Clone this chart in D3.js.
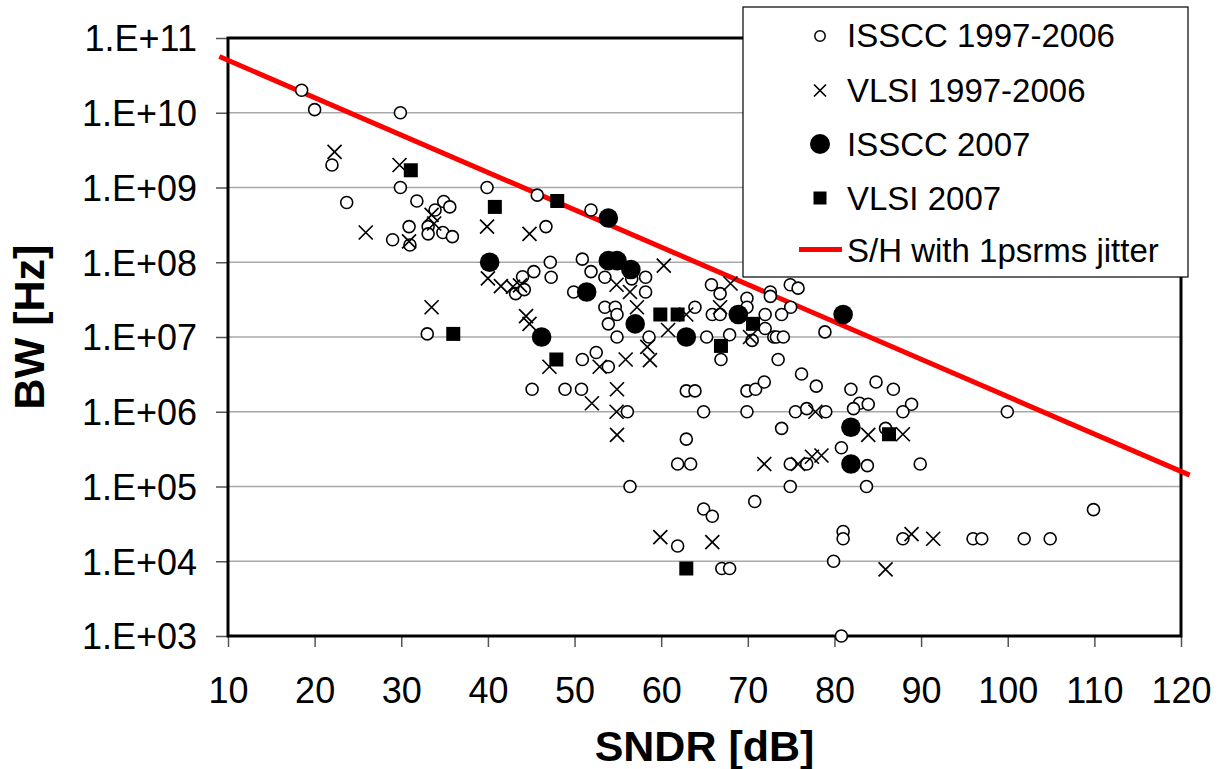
<!DOCTYPE html>
<html><head><meta charset="utf-8">
<script src="https://cdn.jsdelivr.net/npm/d3@7"></script>
<style>body{margin:0;background:#fff;} svg{display:block;font-family:"Liberation Sans",Arial,Helvetica,sans-serif;}</style>
</head><body><svg id="c" width="1224" height="769"></svg>
<script>
// ---- data: [SNDR dB, BW Hz] ----
const isscc9706 = [
[18.5,2e10],[20,1.1e10],[29.9,1e10],[22,2e9],[29.9,1e9],[23.7,6.3e8],[31.8,6.6e8],[34.9,6.5e8],[35.6,5.5e8],[33.9,5e8],[39.9,1e9],[45.7,7.9e8],
[29,2e8],[30.9,3e8],[31,1.7e8],[33.1,3e8],[33.1,2.4e8],[34.8,2.5e8],[35.9,2.2e8],[46.7,3e8],
[45.3,7.5e7],[47.2,1e8],[47.3,6.3e7],[44,6.4e7],[43.2,3.8e7],[44.2,4.3e7],
[33,1.1e7],[45.1,2e6],[51.9,5e8],
[50.9,1.1e8],[51.9,7.5e7],[49.9,4e7],
[53.5,6.3e7],[56.6,6e7],[58.2,6.3e7],[58.2,4e7],
[53.5,2.5e7],[54.7,2.5e7],[54.9,2e7],[53.9,1.5e7],[54.9,1e7],[58.6,1e7],
[63.9,2.5e7],[65.25,1e7],[67.9,1.07e7],[66.9,5e6],
[65.8,5e7],[66.8,3.8e7],[69.9,3.3e7],[72.6,4e7],[72.6,3.5e7],[74.9,5e7],[75.8,4.5e7],[74.95,2.5e7],
[65.9,2e7],[66.8,2e7],[69.9,2.5e7],[70.5,9e6],[72,2e7],[72,1.3e7],[73,1e7],[73.3,1e7],[74.1,1e7],[73.9,2e7],[78.9,1.17e7],
[73.5,5e6],[76.2,3.2e6],[77.9,2.2e6],[81.9,2e6],
[50.9,5e6],[52.5,6.2e6],[53.9,4e6],[48.9,2e6],[50.8,2e6],[56.1,1e6],[62.9,1.9e6],[63.9,1.9e6],[64.9,1e6],
[69.9,1.9e6],[70.9,2e6],[71.9,2.5e6],[69.9,1e6],[75.5,1e6],[76.8,1.1e6],[79,1e6],
[84.8,2.5e6],[86.8,2e6],[82.9,1.3e6],[83.9,1.26e6],[82.2,1.1e6],[88.9,1.26e6],[87.9,1e6],[99.95,1e6],
[62.9,4.3e5],[61.9,2e5],[63.4,2e5],[56.4,1e5],[73.9,6e5],[74.9,2e5],[76.8,2e5],[80.8,3.3e5],[83.8,1.9e5],[83.7,1e5],[74.9,1e5],
[70.8,6.3e4],[64.9,5e4],[65.9,4e4],[61.9,1.6e4],[67,8e3],[67.9,8e3],[81,2.5e4],[81,2e4],[79.9,1e4],[80.8,1e3],
[85.9,6e5],[89.9,2e5],[109.9,4.9e4],[87.9,2e4],[96,2e4],[97,2e4],[101.9,2e4],[104.9,2e4]
];
const vlsi9706 = [
[22.3,3e9],[29.8,2e9],[33.5,4.3e8],[33.8,3.3e8],[25.9,2.5e8],[30.9,1.9e8],[39.9,3e8],[44.8,2.4e8],
[40,6.1e7],[41.5,4.8e7],[42.9,4.7e7],[43.7,4.9e7],[33.5,2.5e7],[44.4,1.9e7],[44.8,1.5e7],[47.1,4e6],
[54.85,5e7],[56.4,4e7],[60.3,9e7],[57.2,2.5e7],[60.8,1.24e7],[62.9,2e7],[58.4,7.4e6],[58.7,4.9e6],
[68,5.2e7],[66.8,2.5e7],[70.25,1e7],[52.9,4e6],[55.9,5e6],[52,1.3e6],[54.9,2e6],[54.85,1e6],[77.8,1e6],
[54.9,4.9e5],[71.9,2e5],[75.8,2e5],[77.4,2.5e5],[78.5,2.6e5],[59.9,2.1e4],[65.9,1.8e4],
[83.9,4.9e5],[87.9,5e5],[88.9,2.3e4],[91.4,2e4],[85.9,7.8e3]
];
const isscc2007 = [
[40.2,1e8],[46.2,1e7],[51.4,4e7],[53.9,3.9e8],[53.9,1.05e8],[54.9,1.05e8],[56.5,8e7],[57,1.5e7],[62.9,1e7],[68.9,2e7],[81,2e7],[81.9,6.2e5],[81.9,2e5]
];
const vlsi2007 = [
[31.1,1.7e9],[40.8,5.5e8],[48,6.6e8],[36,1.1e7],[47.9,5e6],[59.9,2e7],[61.9,2e7],[66.9,7.6e6],[70.6,1.5e7],[62.9,8e3],[86.3,5e5]
];
const jitterLine = [[9,5.65e10],[121,1.42e5]];
const xTicks = [10,20,30,40,50,60,70,80,90,100,110,120];
const yTicks = [1e3,1e4,1e5,1e6,1e7,1e8,1e9,1e10,1e11];
const yTickLabels = ["1.E+03","1.E+04","1.E+05","1.E+06","1.E+07","1.E+08","1.E+09","1.E+10","1.E+11"];
const legendLabels = ["ISSCC 1997-2006","VLSI 1997-2006","ISSCC 2007","VLSI 2007","S/H with 1psrms jitter"];

// ---- chart ----
const svg = d3.select("#c");
const X0=228, X1=1181, Y0=38, Y1=636;
const x = d3.scaleLinear().domain([10,120]).range([X0,X1]);
const y = d3.scaleLog().domain([1e3,1e11]).range([Y1,Y0]);

// gridlines
svg.append("g").selectAll("line").data(yTicks.slice(1,-1)).join("line")
  .attr("x1",X0).attr("x2",X1).attr("y1",d=>y(d)).attr("y2",d=>y(d))
  .attr("stroke","#a8a8a8").attr("stroke-width",1.5);

// axes
const yAxis = d3.axisLeft(y).tickValues(yTicks).tickSize(12).tickPadding(19)
  .tickFormat((d,i)=>yTickLabels[yTicks.indexOf(d)]);
const gy = svg.append("g").attr("transform",`translate(${X0},0)`).call(yAxis);
gy.select(".domain").remove();
gy.selectAll(".tick line").attr("stroke","#555").attr("stroke-width",1.5);
gy.selectAll(".tick text").attr("font-size",36).attr("fill","#000").attr("dy","0.36em");

const xAxis = d3.axisBottom(x).tickValues(xTicks).tickSize(11).tickPadding(30).tickFormat(d3.format("d"));
const gx = svg.append("g").attr("transform",`translate(0,${Y1})`).call(xAxis);
gx.select(".domain").remove();
gx.selectAll(".tick line").attr("stroke","#555").attr("stroke-width",1.5);
gx.selectAll(".tick text").attr("font-size",36).attr("fill","#000").attr("dy","0.71em");

// border
svg.append("rect").attr("x",X0).attr("y",Y0).attr("width",X1-X0).attr("height",Y1-Y0)
  .attr("fill","none").attr("stroke","#000").attr("stroke-width",3);

// jitter line
svg.append("path").datum(jitterLine)
  .attr("d",d3.line().x(d=>x(d[0])).y(d=>y(d[1])))
  .attr("stroke","#ff0000").attr("stroke-width",5).attr("fill","none");

// markers
const gm = svg.append("g");
gm.selectAll(".oc").data(isscc9706).join("circle")
  .attr("cx",d=>x(d[0])).attr("cy",d=>y(d[1])).attr("r",6)
  .attr("fill","#fff").attr("stroke","#000").attr("stroke-width",1.6);
const cross = (g,s)=>g.attr("d",`M${-s},${-s}L${s},${s}M${-s},${s}L${s},${-s}`)
  .attr("stroke","#000").attr("stroke-width",1.7).attr("fill","none");
gm.selectAll(".xs").data(vlsi9706).join("path")
  .attr("transform",d=>`translate(${x(d[0])},${y(d[1])})`).call(cross,7);
gm.selectAll(".fc").data(isscc2007).join("circle")
  .attr("cx",d=>x(d[0])).attr("cy",d=>y(d[1])).attr("r",9.8).attr("fill","#000");
gm.selectAll(".sq").data(vlsi2007).join("rect")
  .attr("x",d=>x(d[0])-7).attr("y",d=>y(d[1])-7).attr("width",14).attr("height",14).attr("fill","#000");

// axis titles
svg.append("text").attr("x",(X0+X1)/2).attr("y",761).attr("text-anchor","middle")
  .attr("font-size",43).attr("font-weight","bold").text("SNDR [dB]");
svg.append("text").attr("transform","translate(44,327) rotate(-90)").attr("text-anchor","middle")
  .attr("font-size",43).attr("font-weight","bold").text("BW [Hz]");

// legend
const lg = svg.append("g");
lg.append("rect").attr("x",743).attr("y",7).attr("width",445).attr("height",270)
  .attr("fill","#fff").attr("stroke","#000").attr("stroke-width",1.2);
const baselines = [46.7,101.7,156,210,261.7];
lg.selectAll("text").data(legendLabels).join("text")
  .attr("x",847).attr("y",(d,i)=>baselines[i]).attr("font-size",33).attr("fill","#000").text(d=>d);
const mx = 820;
lg.append("circle").attr("cx",mx).attr("cy",36).attr("r",5.2).attr("fill","#fff").attr("stroke","#000").attr("stroke-width",1.5);
lg.append("path").attr("transform",`translate(${mx},${90.5})`).call(cross,6);
lg.append("circle").attr("cx",mx).attr("cy",144).attr("r",10).attr("fill","#000");
lg.append("rect").attr("x",mx-6.5).attr("y",198-6.5).attr("width",13).attr("height",13).attr("fill","#000");
lg.append("line").attr("x1",799).attr("x2",842).attr("y1",249.5).attr("y2",249.5).attr("stroke","#ff0000").attr("stroke-width",5);
</script></body></html>
